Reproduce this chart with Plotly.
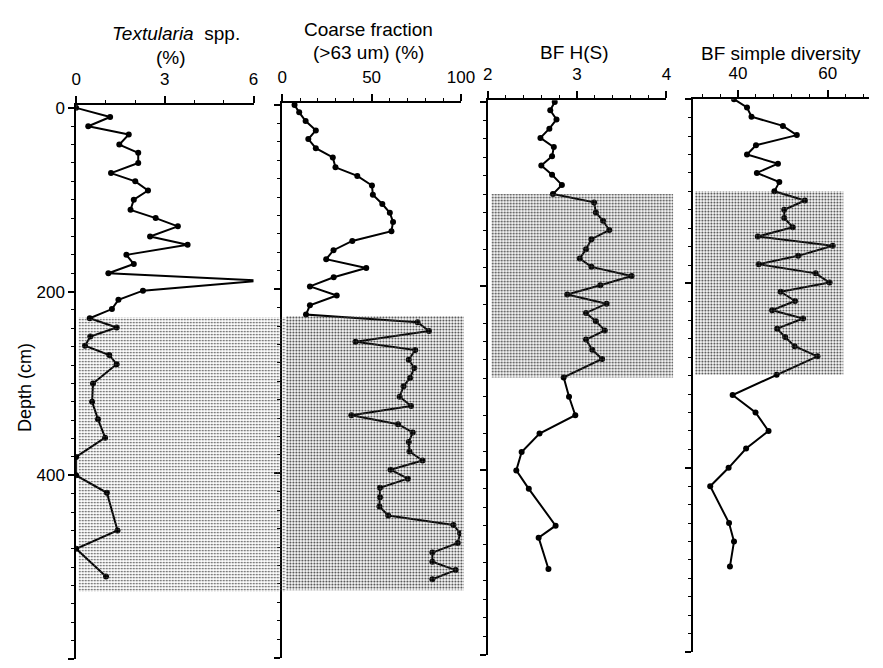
import plotly.graph_objects as go

# ---------------- data ----------------
depth_tex = [0, 10, 20, 29, 40, 49, 60, 71, 80, 90, 100, 111, 120, 129, 140, 149, 160, 170, 180, 188,
             199, 209, 219, 229, 239, 249, 259, 269, 279, 300, 320, 339, 359, 380, 400, 419, 460, 480, 510]
textularia = [0, 1.15, 0.41, 1.78, 1.46, 2.1, 2.1, 1.18, 2.0, 2.43, 1.95, 1.84, 2.69, 3.44, 2.5, 3.77, 1.7, 1.95, 1.09, 6.29,
              2.26, 1.43, 1.21, 0.46, 1.37, 0.48, 0.3, 1.12, 1.37, 0.57, 0.54, 0.74, 0.98, 0, 0, 1.04, 1.4, 0, 1.01]

depth_cf = [0, 8, 17.5, 27.6, 37, 47, 57, 67.7, 77, 87.4, 97.4, 107.5, 117, 127, 137, 147.6, 157.7, 167.4, 177, 187,
            197, 206.8, 217.5, 227.5, 236, 245.5, 257, 266, 276.6, 285.6, 296.4, 305.4, 316.8, 326.9, 336.9, 346.6,
            355.5, 366, 376.3, 386, 396, 405.7, 415.7, 426, 436, 445.8, 456, 465, 475.6, 486, 496, 505, 515]
coarse = [6.9, 9.5, 13.1, 18.8, 14.6, 18.8, 28.3, 29.8, 42, 50.2, 50.7, 56, 60.2, 62, 61.1, 39.2, 28.7, 24.6, 47, 28.8,
          15.5, 30.5, 15.5, 13.3, 75.7, 82.1, 41, 74.4, 70.8, 73.9, 71.5, 67.9, 65.7, 72.1, 38.7, 64.8,
          73, 70.8, 71.2, 78.5, 60.6, 70.3, 54.7, 54.7, 54.4, 59.3, 95.8, 99.5, 98.2, 84, 84, 97, 84]

depth_hs = [0, 9, 19, 29, 39, 49, 59, 69, 79, 90, 100, 109, 120, 129, 139, 149, 160, 170, 179, 189,
            199, 209, 219, 229, 238, 248, 258, 269, 279, 299, 320, 340, 360, 380, 400, 420, 460, 473, 507]
bf_hs = [2.75, 2.70, 2.77, 2.69, 2.59, 2.74, 2.72, 2.60, 2.72, 2.83, 2.73, 3.19, 3.21, 3.29, 3.36, 3.16, 3.10, 3.03, 3.16, 3.61,
         3.26, 2.89, 3.33, 3.10, 3.21, 3.31, 3.10, 3.17, 3.28, 2.85, 2.91, 2.98, 2.58, 2.38, 2.32, 2.46, 2.76, 2.57, 2.68]

depth_sd = [0, 9, 19, 29, 39, 50, 60, 70, 80, 90, 100, 110, 120, 129, 139, 149, 159, 170, 179, 189,
            199, 209, 219, 229, 238, 249, 258, 268, 279, 299, 321, 340, 360, 379, 400, 420, 460, 480, 507]
bf_sd = [39.1, 42.0, 43.0, 50.0, 53.1, 44.0, 42.0, 48.9, 44.2, 49.2, 48.1, 54.9, 50.3, 50.3, 52.2, 44.4, 61.1, 53.4, 44.6, 57.3,
         60.4, 49.5, 52.7, 47.6, 54.5, 48.7, 50.5, 52.6, 57.7, 48.6, 38.8, 43.9, 46.8, 41.8, 37.9, 33.8, 38.0, 39.1, 38.2]

# shaded depth zones (top, bottom) per panel
zone_tex = [228, 527]
zone_cf = [229, 527]
zone_hs = [100, 299]
zone_sd = [100, 299]

titles = ["<i>Textularia</i>\u00a0 spp.", "(%)", "Coarse fraction", "(>63 um) (%)", "BF H(S)", "BF simple diversity"]
y_title = "Depth (cm)"

# ---------------- layout helpers ----------------
W, H = 883, 668
def fx(px):
    return px / W
def fy(py):
    return 1 - py / H

FONT = "Liberation Sans, Arial, sans-serif"
fig = go.Figure()

panels = [
    dict(xd=(72.7, 254), yd=(100, 659), xr=[0, 6], yr=[600, -3], dt=3, mdt=1),
    dict(xd=(283.3, 466), yd=(98, 657.5), xr=[0, 100], yr=[600, -2], dt=50, mdt=10),
    dict(xd=(493.3, 676), yd=(95, 654.5), xr=[2, 4], yr=[600, -2], dt=1, mdt=0.2),
    dict(xd=(703.3, 883), yd=(94, 652), xr=[30, 69.19], yr=[600, 0], dt=20, mdt=4),
]
shade = [
    dict(xd=(75, 287), zone=zone_tex, sol=0.25),
    dict(xd=(287, 469), zone=zone_cf, sol=0.34),
    dict(xd=(497, 683), zone=zone_hs, sol=0.34),
    dict(xd=(705, 857), zone=zone_sd, sol=0.34),
]
series = [(textularia, depth_tex), (coarse, depth_cf), (bf_hs, depth_hs), (bf_sd, depth_sd)]

lay = {}
for i, p in enumerate(panels):
    n = i + 1
    xk = "xaxis" if n == 1 else f"xaxis{n}"
    yk = "yaxis" if n == 1 else f"yaxis{n}"
    lay[xk] = dict(domain=[fx(p["xd"][0]), fx(p["xd"][1])], range=p["xr"], side="top",
                   anchor="y" if n == 1 else f"y{n}",
                   showline=True, linecolor="black", linewidth=1.5, showgrid=False, zeroline=False,
                   ticks="outside", ticklen=7, tickwidth=1.5, tickcolor="black",
                   tick0=0, dtick=p["dt"], ticklabelstandoff=5,
                   minor=dict(ticks="outside", ticklen=3, tickwidth=1.2, tickcolor="black", dtick=p["mdt"], tick0=0),
                   tickfont=dict(family=FONT, size=17, color="black"))
    lay[yk] = dict(domain=[fy(p["yd"][1]), fy(p["yd"][0])], range=p["yr"],
                   anchor="x" if n == 1 else f"x{n}",
                   showline=True, linecolor="black", linewidth=1.5, showgrid=False, zeroline=False,
                   ticks="outside", ticklen=6, tickwidth=1.5, tickcolor="black",
                   tick0=0, dtick=200, showticklabels=(n == 1),
                   minor=dict(ticks="outside", ticklen=3, tickwidth=1.2, tickcolor="black", dtick=20, tick0=0),
                   tickfont=dict(family=FONT, size=17, color="black"))

for i, s in enumerate(shade):
    n = 5 + i
    lay[f"xaxis{n}"] = dict(domain=[fx(s["xd"][0]), fx(s["xd"][1])], range=[0, 1], visible=False,
                            anchor="y" if i == 0 else f"y{i+1}")
    z0, z1 = s["zone"]
    fig.add_trace(go.Scatter(
        x=[0, 1, 1, 0, 0], y=[z0, z0, z1, z1, z0], mode="lines", line=dict(width=0),
        fill="toself", fillcolor="rgba(0,0,0,0)",
        fillpattern=dict(shape=".", size=3, solidity=s["sol"], fgcolor="#3a3a3a", bgcolor="rgba(0,0,0,0)",
                         fillmode="replace"),
        xaxis=f"x{n}", yaxis="y" if i == 0 else f"y{i+1}", hoverinfo="skip", showlegend=False))

for i, (vals, dep) in enumerate(series):
    n = i + 1
    fig.add_trace(go.Scatter(
        x=vals, y=dep, mode="lines+markers",
        line=dict(color="black", width=2), marker=dict(color="black", size=6),
        xaxis="x" if n == 1 else f"x{n}", yaxis="y" if n == 1 else f"y{n}", showlegend=False))

ann = []
def add_text(txt, xp, yp, size=19, angle=0):
    ann.append(dict(text=txt, x=fx(xp), y=fy(yp), xref="paper", yref="paper", showarrow=False,
                    xanchor="center", yanchor="middle", textangle=angle,
                    font=dict(family=FONT, size=size, color="black")))

add_text(titles[0], 175, 28)
add_text(titles[1], 170, 52)
add_text(titles[2], 372, 24)
add_text(titles[3], 372, 47)
add_text(titles[4], 582, 47)
add_text(titles[5], 793, 48)
add_text(y_title, 20, 385, size=18, angle=-90)

fig.update_layout(width=W, height=H, autosize=False, margin=dict(l=0, r=0, t=0, b=0),
                  paper_bgcolor="white", plot_bgcolor="rgba(0,0,0,0)", showlegend=False,
                  annotations=ann, **lay)

fig.write_html("out.html", config={"displayModeBar": False},
               post_script="document.body.style.margin='0';document.body.style.padding='0';"
                           "document.body.style.overflow='hidden';")
